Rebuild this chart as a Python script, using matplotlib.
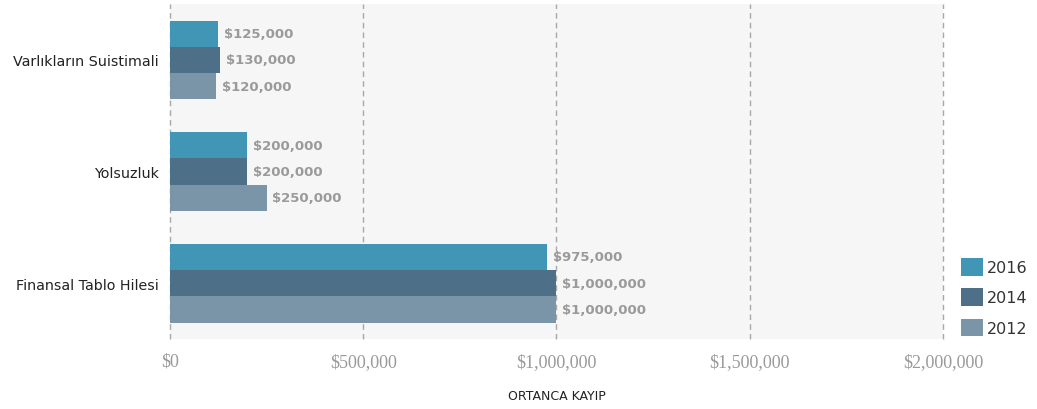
import matplotlib
matplotlib.use("Agg")
import matplotlib.pyplot as plt
import numpy as np
from matplotlib.patches import Patch
from matplotlib.ticker import FuncFormatter

categories = ["Varlıkların Suistimali", "Yolsuzluk", "Finansal Tablo Hilesi"]
years = ["2016", "2014", "2012"]
values_2016 = [125000, 200000, 975000]
values_2014 = [130000, 200000, 1000000]
values_2012 = [120000, 250000, 1000000]
x_ticks = [0, 500000, 1000000, 1500000, 2000000]
colors = ["#4196b5", "#4d6f87", "#7b95a8"]

series = [values_2016, values_2014, values_2012]

fig = plt.figure(figsize=(10.37, 4.10), dpi=100)
ax = fig.add_axes([0.1639, 0.1707, 0.7454, 0.817])
ax.set_facecolor("#f6f6f6")

y = np.arange(len(categories))
bar_h = 0.235
for i, (vals, col) in enumerate(zip(series, colors)):
    pos = y + (i - 1) * bar_h
    ax.barh(pos, vals, height=bar_h, color=col, zorder=3)
    for p, v in zip(pos, vals):
        ax.text(v + 15000, p, f"${v:,.0f}", va="center", ha="left",
                fontsize=9.5, color="#9a9a9a", fontweight="bold",
                family="DejaVu Sans", zorder=4)

ax.set_xlim(0, 2000000)
ax.set_ylim(2.5, -0.5)
ax.set_xticks(x_ticks)
ax.xaxis.set_major_formatter(FuncFormatter(lambda v, _: f"${v:,.0f}"))
ax.set_yticks(y)
ax.set_yticklabels(categories, fontsize=10.3, color="#222222", family="DejaVu Sans")
for lbl in ax.get_xticklabels():
    lbl.set_family("Liberation Serif")
    lbl.set_fontsize(13)
    lbl.set_color("#9a9a9a")
ax.tick_params(axis="both", length=0)
ax.tick_params(axis="x", pad=10)
ax.tick_params(axis="y", pad=8)
for s in ax.spines.values():
    s.set_visible(False)
ax.grid(axis="x", linestyle=(0, (4, 3)), color="#a8a8a8", linewidth=1, zorder=1)
for gl in ax.get_xgridlines():
    gl.set_clip_on(False)

ax.set_xlabel("ORTANCA KAYIP", fontsize=9, color="#222222", labelpad=14,
              family="DejaVu Sans")

handles = [Patch(facecolor=c, edgecolor="none") for c in colors]
leg = fig.legend(handles, years, loc="center left", bbox_to_anchor=(0.913, 0.273),
                 frameon=False, handlelength=1.35, handleheight=1.3,
                 handletextpad=0.25, labelspacing=0.8,
                 prop={"family": "DejaVu Sans", "size": 11.5})
for t in leg.get_texts():
    t.set_color("#333333")

fig.savefig("out.png", dpi=100)
